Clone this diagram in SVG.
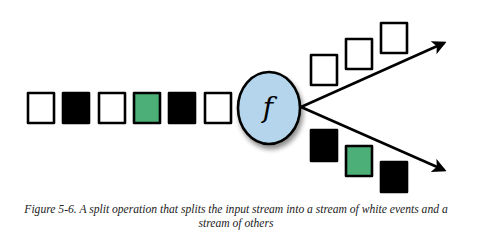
<svg xmlns="http://www.w3.org/2000/svg" width="495" height="243" viewBox="0 0 495 243">
  <style>
    .ev { stroke: #000; stroke-width: 2.6; stroke-linejoin: round; }
    .white { fill: #fff; }
    .black { fill: #000; }
    .green { fill: #4caf78; }
    .flow { stroke: #000; stroke-width: 2.6; fill: none; marker-end: url(#head); }
    .fn { font-family: "DejaVu Serif", serif; font-style: italic; font-size: 28px; fill: #000; }
    .cap { font-family: "Liberation Serif", "Times New Roman", serif; font-style: italic; font-size: 11.6px; fill: #222; }
  </style>
  <defs>
    <marker id="head" viewBox="0 0 10 10" refX="8" refY="5" markerWidth="5.5" markerHeight="5.5" markerUnits="strokeWidth" orient="auto">
      <path d="M0,0 L10,5 L0,10 L2.5,5 Z" fill="#000"/>
    </marker>
    <filter id="shadow" x="-30%" y="-30%" width="160%" height="160%">
      <feGaussianBlur in="SourceAlpha" stdDeviation="2.5"/>
      <feOffset dx="2" dy="4" result="b"/>
      <feComponentTransfer><feFuncA type="linear" slope="0.45"/></feComponentTransfer>
      <feMerge><feMergeNode/><feMergeNode in="SourceGraphic"/></feMerge>
    </filter>
  </defs>
  <rect width="495" height="243" fill="#fff"/>

  <!-- input stream -->
  <g id="input-stream">
    <rect class="ev white" x="28" y="93" width="26" height="30"/>
    <rect class="ev black" x="63" y="93" width="26" height="30"/>
    <rect class="ev white" x="99" y="93" width="26" height="30"/>
    <rect class="ev green" x="134" y="93" width="26" height="30"/>
    <rect class="ev black" x="169" y="93" width="26" height="30"/>
    <rect class="ev white" x="205" y="93" width="26" height="30"/>
  </g>

  <!-- connectors -->
  <g id="connectors">
    <line class="flow" x1="301" y1="107" x2="444" y2="43"/>
    <line class="flow" x1="301" y1="107" x2="444" y2="170"/>
  </g>

  <!-- split function -->
  <g id="split-function">
    <ellipse cx="269" cy="108" rx="31" ry="36" fill="#b4d5ec" stroke="#000" stroke-width="2.6" filter="url(#shadow)"/>
    <text class="fn" x="268" y="117" text-anchor="middle">f</text>
  </g>

  <!-- white events output -->
  <g id="white-stream">
    <rect class="ev white" x="311" y="55" width="26" height="30"/>
    <rect class="ev white" x="346" y="39" width="26" height="30"/>
    <rect class="ev white" x="381" y="23" width="26" height="30"/>
  </g>

  <!-- other events output -->
  <g id="other-stream">
    <rect class="ev black" x="311" y="130" width="26" height="31"/>
    <rect class="ev green" x="346" y="146" width="26" height="30"/>
    <rect class="ev black" x="381" y="162" width="26" height="30"/>
  </g>

  <!-- caption -->
  <g id="caption">
    <text class="cap" x="236" y="213" text-anchor="middle">Figure 5-6. A split operation that splits the input stream into a stream of white events and a</text>
    <text class="cap" x="236" y="227" text-anchor="middle">stream of others</text>
  </g>
</svg>
